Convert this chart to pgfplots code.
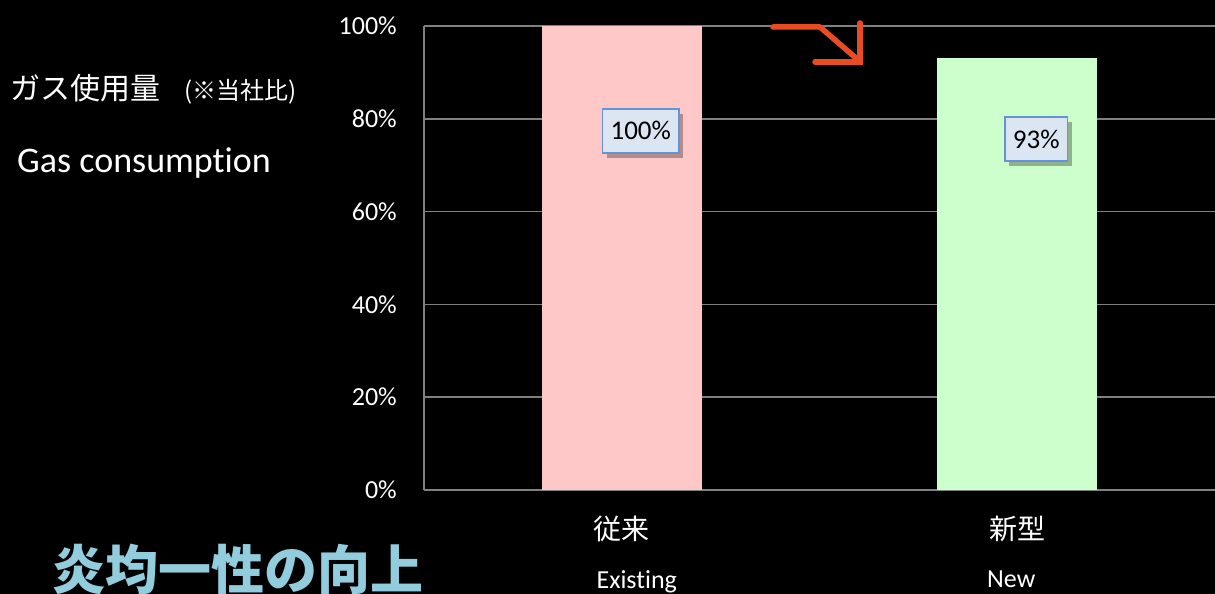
\documentclass[border=0pt]{standalone}
\usepackage{pgfplots}
\pgfplotsset{compat=1.18}
\usepackage{fontspec}
\setmainfont[Ligatures=NoCommon]{Carlito}
\newfontfamily\cjk{Noto Sans CJK JP}
\usetikzlibrary{shadows}
\definecolor{barpink}{RGB}{255,200,200}
\definecolor{bargreen}{RGB}{204,255,204}
\definecolor{gridgray}{RGB}{128,128,128}
\definecolor{boxfill}{RGB}{220,230,242}
\definecolor{boxdraw}{RGB}{100,148,215}
\definecolor{arroworange}{RGB}{232,76,34}
\definecolor{titleblue}{RGB}{146,205,221}
\begin{document}
\begin{tikzpicture}
\path[use as bounding box] (0,0) rectangle (1215pt,594pt);
\fill[black] (0,0) rectangle (1215pt,594pt);
\begin{axis}[
  at={(424pt,104pt)}, anchor=south west,
  scale only axis, width=791pt, height=464pt,
  xmin=-0.5, xmax=1.5, ymin=0, ymax=100,
  axis x line*=bottom, axis y line*=left,
  axis line style={gridgray, line width=1.5pt, -},
  major tick length=0pt,
  ytick={0,20,40,60,80,100},
  yticklabel={\pgfmathprintnumber{\tick}\%},
  /pgf/number format/assume math mode=true,
  yticklabel style={text=white, font=\fontsize{26}{26}\selectfont, anchor=east, inner sep=0pt, xshift=-27pt},
  ymajorgrids, grid style={gridgray, line width=1.5pt},
  xtick={0,1},
  xticklabels={
    {\cjk\fontsize{28}{30}\selectfont 従来\\[28pt]\fontsize{26}{28}\selectfont\hspace*{30pt}Existing},
    {\cjk\fontsize{28}{30}\selectfont 新型\\[28pt]\fontsize{26}{28}\selectfont New\hspace*{12pt}}
  },
  xticklabel style={text=white, anchor=north, align=center, inner sep=0pt, yshift=-26pt},
  clip=false,
]
\addplot[ybar, bar width=160pt, bar shift=0pt, draw=none, fill=barpink] coordinates {(0,100)};
\addplot[ybar, bar width=160pt, bar shift=0pt, draw=none, fill=bargreen] coordinates {(1,93)};
\addplot[draw=none, mark=none, nodes near coords, point meta=explicit symbolic,
  every node near coord/.style={anchor=center, fill=boxfill, draw=boxdraw, line width=1.5pt,
    text=black, font=\fontsize{27}{27}\selectfont, inner xsep=8pt, minimum height=44pt,
    drop shadow={shadow xshift=4pt, shadow yshift=-5pt, fill=black, opacity=0.3}}]
  coordinates {(0.048,77.4) [100\%] (1.048,75.6) [93\%]};
\end{axis}
% arrow
\draw[arroworange, line width=5.5pt, line cap=round, line join=round]
  (773pt,567pt) -- (820pt,567pt) -- (857pt,535pt);
\draw[arroworange, line width=5.5pt, line cap=round, line join=miter]
  (815pt,532pt) -- (860pt,532pt) -- (860pt,571pt);
% left texts
\node[anchor=base west, inner sep=0pt, text=white] at (10pt,494pt) {\cjk\fontsize{30}{30}\selectfont ガス使用量};
\node[anchor=base west, inner sep=0pt, text=white] at (184pt,494pt) {\cjk\fontsize{24}{24}\selectfont (※当社比)};
\node[anchor=base west, inner sep=0pt, text=white] at (17pt,421pt) {\fontsize{36}{36}\selectfont Gas consumption};
\node[anchor=base west, inner sep=0pt, text=titleblue] at (52pt,4pt) {\cjk\bfseries\fontsize{53}{53}\selectfont 炎均一性の向上};
\end{tikzpicture}
\end{document}
